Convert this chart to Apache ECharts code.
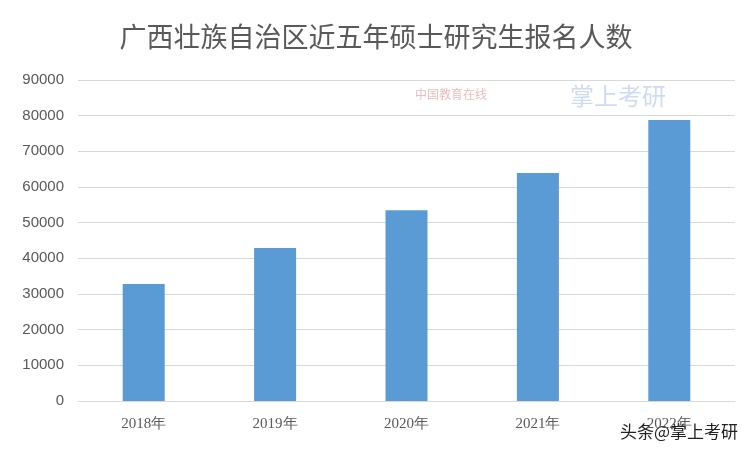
<!DOCTYPE html>
<html><head><meta charset="utf-8">
<script src="https://cdn.jsdelivr.net/npm/echarts@6/dist/echarts.min.js"></script>
<style>html,body{margin:0;padding:0;background:#fff}#c{width:752px;height:452px}</style>
</head><body><div id="c"></div>
<script>
var years = ["2018年", "2019年", "2020年", "2021年", "2022年"];
var applicants = [32800, 42900, 53500, 63900, 78800];

var chart = echarts.init(document.getElementById("c"));
chart.setOption({
  animation: false,
  title: {
    text: "广西壮族自治区近五年硕士研究生报名人数",
    left: "center", top: 18,
    textStyle: { fontSize: 27, fontWeight: "normal", color: "#595959", fontFamily: "Noto Sans CJK SC" }
  },
  grid: { left: 78, right: 17, top: 80, bottom: 51 },
  xAxis: {
    type: "category", data: years,
    axisLine: { lineStyle: { color: "#d9d9d9" } },
    axisTick: { show: false },
    axisLabel: { color: "#595959", fontSize: 15, margin: 16, fontFamily: "Liberation Serif" }
  },
  yAxis: {
    type: "value", min: 0, max: 90000, interval: 10000,
    axisLabel: { color: "#595959", fontSize: 15, margin: 14, fontFamily: "Liberation Sans",
      formatter: function (v) { return String(v); } },
    splitLine: { lineStyle: { color: "#d9d9d9" } }
  },
  series: [{
    type: "bar", data: applicants, barWidth: 42,
    itemStyle: { color: "#5b9bd5" }
  }],
  graphic: [
    { type: "text", right: 14, bottom: 12,
      style: { text: "头条@掌上考研", fontSize: 17, fill: "#222", fontFamily: "Noto Sans CJK SC" } },
    { type: "text", left: 415, top: 88,
      style: { text: "中国教育在线", fontSize: 12, fill: "rgba(200,60,60,0.35)", fontFamily: "Noto Sans CJK SC" } },
    { type: "text", left: 570, top: 84,
      style: { text: "掌上考研", fontSize: 24, fill: "rgba(90,140,220,0.3)", fontFamily: "Noto Sans CJK SC" } }
  ]
});
</script></body></html>
